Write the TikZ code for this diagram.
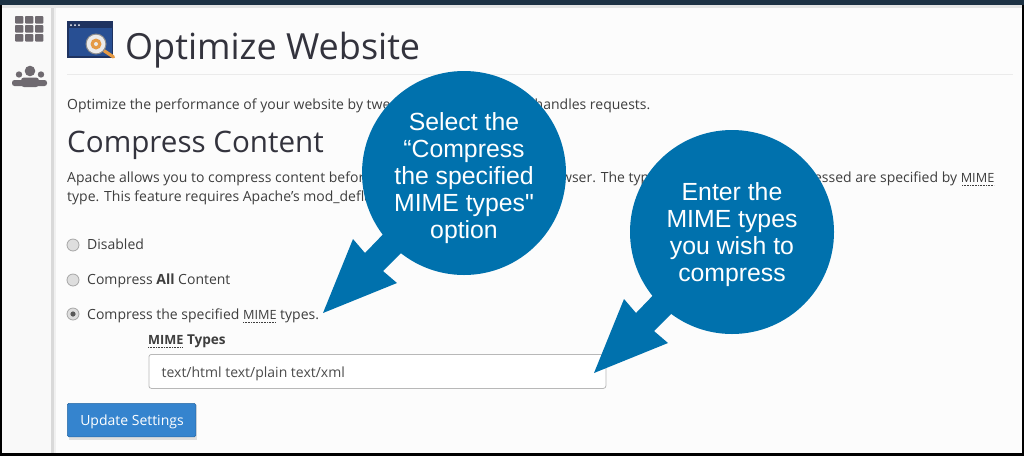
\documentclass[tikz,border=0pt]{standalone}
\usepackage{fontspec}
\setmainfont{Open Sans}
\newfontfamily\calloutfont{Liberation Sans}
\newcommand{\mimeword}{{\fontsize{12.7}{17}\selectfont MIME}}
\definecolor{pagebg}{HTML}{FCFCFC}
\definecolor{sidebg}{HTML}{F9F9F9}
\definecolor{topbar}{HTML}{1D3244}
\definecolor{callout}{HTML}{0071AD}
\definecolor{bodytxt}{HTML}{3E3E3E}
\definecolor{headtxt}{HTML}{33333D}
\definecolor{icongrey}{HTML}{6F6A70}
\definecolor{btn}{HTML}{3584CE}
\definecolor{iconnavy}{HTML}{1F3360}
\definecolor{iconblue}{HTML}{284F93}
\definecolor{iconorange}{HTML}{E59A45}
\tikzset{
  body/.style={anchor=base west,inner sep=0pt,text=bodytxt,font=\fontsize{14}{17}\selectfont},
  bodyr/.style={body,anchor=base east},
  mimeline/.style={draw=bodytxt,line width=0.8pt,dash pattern=on 0.8pt off 0.8pt},
  radio/.style={circle,draw=black!35,fill=black!13,line width=0.8pt,minimum size=12pt,inner sep=0pt},
  bubble/.style={circle,fill=callout,minimum size=204pt,inner sep=0pt},
  bubbletext/.style={inner sep=0pt,text=white,align=center,font=\calloutfont\fontsize{24.8}{27}\selectfont},
  arrowshape/.style={fill=callout},
  tile/.style={fill=icongrey,rounded corners=0.8pt},
}
\begin{document}
\begin{tikzpicture}[x=1pt,y=-1pt]
\useasboundingbox (0,0) rectangle (1024,456);
% frame and backgrounds
\fill[black] (0,0) rectangle (1024,456);
\fill[pagebg] (2,5) rectangle (1022,453);
\fill[sidebg] (2,5) rectangle (51,453);
\fill[black!15] (51,5) rectangle (54,453);
\fill[black!6] (54,5) rectangle (55.5,453);
\fill[topbar] (0,0) rectangle (1024,5);
\fill[black!10] (2,5) rectangle (1022,8);
% sidebar icons
\foreach \cx in {15,25,35}{\foreach \cy in {16,25,34}{
  \fill[tile] (\cx,\cy) rectangle ++(8.3,7.5);}}
\fill[icongrey] (30,71) circle (5.3);
\fill[icongrey] (19,74.5) circle (3.2);
\fill[icongrey] (41,74.5) circle (3.2);
\fill[icongrey,rounded corners=2.5pt] (12,86) -- (12,80) -- (47,80) -- (47,86) -- cycle;
\fill[icongrey,rounded corners=3pt] (21,87) -- (21,77.5) -- (39,77.5) -- (39,87) -- cycle;
% title icon
\fill[iconnavy] (67,21) rectangle (113,57.5);
\fill[iconblue] (68.5,28) rectangle (111.5,56);
\foreach \dx in {71,75,79}{\fill[white] (\dx,25) circle (1);}
\draw[iconorange,line width=3.2pt,line cap=round] (103,50) -- (113.5,57);
\fill[black!45] (96,44) circle (10.5);
\fill[black!8] (96,44) circle (9.3);
\fill[iconorange] (96,44) circle (5.5);
\fill[black!8] (96,44) circle (2);
% headings and text
\node[inner sep=0pt,anchor=base west,text=headtxt,font=\fontsize{36}{40}\selectfont] (title) at (125,59) {Optimize Website};
\draw[black!8,line width=1pt] (67,74) -- (1013,74);
\node[body] (introa) at (67,109) {Optimize the performance of your website by tweaking};
\node[bodyr] (introb) at (650.5,109) {handles requests.};
\node[inner sep=0pt,anchor=base west,text=headtxt,font=\fontsize{29.6}{32}\selectfont] (head) at (67,152) {Compress Content};
\node[body] (apa) at (67,182) {Apache allows you to compress content before};
\node[bodyr] (apb) at (664,182) {browser. The types};
\node[bodyr] (apc) at (994.5,182) {essed are specified by \mimeword};
\draw[mimeline] (962,185.5) -- (994,185.5);
\node[body] (apd) at (67,201) {type. This feature requires Apache’s mod\_deflate};
% options
\node[radio] (ra) at (73,245) {};
\node[body] (la) at (87,249) {Disabled};
\node[radio] (rb) at (73,280) {};
\node[body] (lb) at (87,284) {Compress \textbf{All} Content};
\node[radio] (rc) at (73,314) {};
\fill[black!65] (rc.center) circle (2.6);
\node[body] (lc) at (87,319) {Compress the specified \mimeword\ types.};
\draw[mimeline] (243,322.5) -- (276,322.5);
\node[body,font=\fontsize{13.6}{17}\selectfont\bfseries] (mt) at (148,344) {{\fontsize{12.7}{17}\selectfont MIME} Types};
\draw[mimeline] (148,347.5) -- (182,347.5);
% input
\node[draw=black!28,fill=white,rounded corners=2.5pt,line width=0.8pt,minimum width=457pt,minimum height=34pt,inner sep=0pt,anchor=north west] (inp) at (148.5,354) {};
\node[body,text=black!70] (it) at (161.5,377) {text/html text/plain text/xml};
% button
\fill[black!13] (69,405) rectangle (197,440);
\node[draw=btn!80!black,fill=btn,rounded corners=1.5pt,minimum width=128.5pt,minimum height=33.5pt,inner sep=0pt,anchor=north west,line width=0.6pt] (update) at (67,403) {};
\node[body,text=white,anchor=base] (updt) at (132,425) {Update Settings};
% callouts
\fill[arrowshape] (323,313) -- (397,283) -- (383,271) -- (410,244) -- (392,225) -- (365,253) -- (353,239) -- cycle;
\node[bubble] (b1) at (464,173) {};
\node[bubbletext] (b1t) at (464,178) {Select the\\“Compress\\the specified\\MIME types"\\option};
\fill[arrowshape] (594,373) -- (668,343) -- (654,331) -- (681,304) -- (662,286) -- (636,313) -- (624,299) -- cycle;
\node[bubble] (b2) at (732,232) {};
\node[bubbletext] (b2t) at (732,234.5) {Enter the\\MIME types\\you wish to\\compress};
\end{tikzpicture}
\end{document}
